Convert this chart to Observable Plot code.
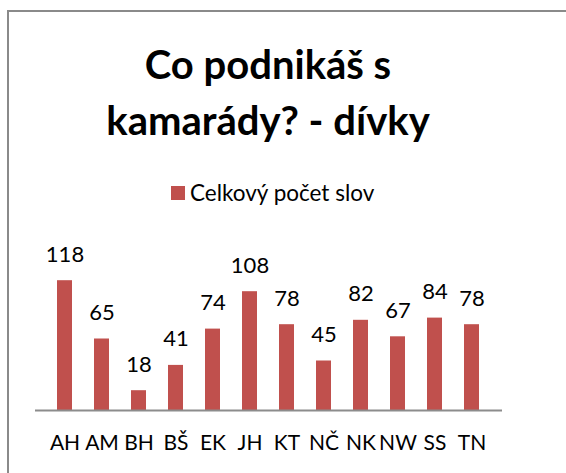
<!DOCTYPE html>
<html><head><meta charset="utf-8">
<script src="https://cdn.jsdelivr.net/npm/d3@7"></script>
<script src="https://cdn.jsdelivr.net/npm/@observablehq/plot@0.6"></script>
<style>
html,body{margin:0;background:#fff;overflow:hidden;}
#wrap{position:relative;width:100vw;height:100vh;overflow:hidden;font-family:Lato,"Open Sans",sans-serif;}
#frame{position:absolute;left:7px;top:10px;width:700px;height:600px;border-left:2px solid #8a8a8a;border-top:2px solid #8a8a8a;box-sizing:border-box;}
#title{position:absolute;left:0;width:536px;top:36px;text-align:center;font-weight:bold;font-size:40px;line-height:56px;color:#000;}
#legend{position:absolute;left:171px;top:179px;font-size:22.5px;color:#000;display:flex;align-items:center;}
#legend span.sw{display:inline-block;width:14px;height:14px;background:#c0504d;margin-right:5px;}
#chart{position:absolute;left:0;top:0;}
</style></head>
<body><div id="wrap"><div id="frame"></div>
<div id="title">Co podnikáš s<br>kamarády? - dívky</div>
<div id="legend"><span class="sw"></span><span id="legtext"></span></div>
<div id="chart"></div></div>
<script>
const categories = ["AH","AM","BH","BŠ","EK","JH","KT","NČ","NK","NW","SS","TN"];
const values = [118,65,18,41,74,108,78,45,82,67,84,78];
const seriesName = "Celkový počet slov";
const barColor = "#c0504d";
document.getElementById("legtext").textContent = seriesName;
const data = categories.map((c,i)=>({cat:c, v:values[i]}));
const plot = Plot.plot({
  width:566, height:473,
  marginLeft:35, marginRight:64, marginTop:256, marginBottom:63,
  style:{fontFamily:"Lato, 'Open Sans', sans-serif", fontSize:"21px", color:"#000", background:"transparent", overflow:"visible"},
  x:{domain:categories, padding:0.59, label:null},
  y:{domain:[0,140], axis:null},
  marks:[
    Plot.barY(data,{x:"cat", y:"v", fill:barColor}),
    Plot.ruleY([0],{stroke:"#8c8c8c", strokeWidth:2}),
    Plot.text(data,{x:"cat", y:"v", text:d=>String(d.v), dy:-26, fontSize:22, fill:"#000"}),
    Plot.axisX({tickSize:0, tickPadding:25, fontSize:21, label:null})
  ]
});
document.getElementById("chart").appendChild(plot);
</script></body></html>
